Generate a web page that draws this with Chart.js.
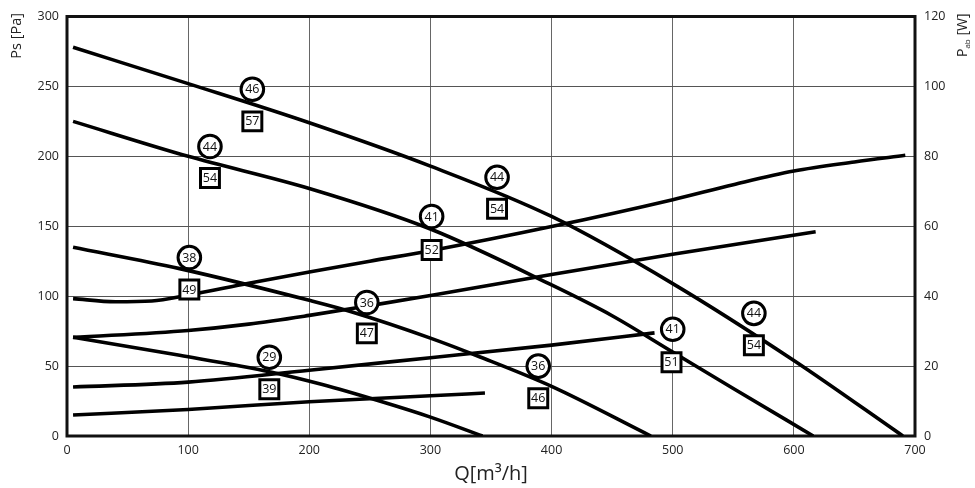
<!DOCTYPE html>
<html><head><meta charset="utf-8">
<script src="https://cdn.jsdelivr.net/npm/chart.js@4"></script>
<style>html,body{margin:0;padding:0;background:#fff}#wrap{width:975px;height:488px}</style>
</head><body><div id="wrap"><canvas id="c"></canvas></div>
<script>
// Pressure curves (left axis, Pa)
const ps1Q = [5, 100, 200, 300, 400, 500, 600, 690];
const ps1V = [278, 252, 224, 193, 157, 109, 54, 0];
const ps2Q = [5, 100, 200, 300, 400, 450, 500, 550, 616];
const ps2V = [225, 200, 177, 148, 108, 86, 60, 34, 0];
const ps3Q = [5, 93, 200, 236, 300, 341, 400, 482];
const ps3V = [135, 119.7, 97, 88.5, 70, 56.5, 35.5, 0];
const ps4Q = [5, 93, 168, 210, 258, 300, 343];
const ps4V = [70.6, 57.7, 45.8, 37, 25, 13.5, 0];
// Power curves (right axis, W)
const pw1Q = [5, 40, 70, 100, 150, 200, 250, 300, 400, 500, 550, 600, 650, 692];
const pw1V = [39.3, 38.4, 38.6, 40.3, 43.7, 46.9, 50, 53, 59.9, 67.6, 71.9, 75.8, 78.4, 80.3];
const pw2Q = [5, 100, 150, 200, 250, 300, 400, 500, 618];
const pw2V = [28.2, 30.2, 32, 34.5, 37.3, 40.2, 46.2, 52, 58.4];
const pw3Q = [5, 100, 200, 300, 400, 485];
const pw3V = [14, 15.4, 18.8, 22.4, 26, 29.5];
const pw4Q = [5, 100, 200, 300, 345];
const pw4V = [6, 7.6, 9.8, 11.5, 12.3];
// Circle markers
const circleQ = [153, 118, 355, 301, 247.5, 389, 101, 167, 500, 567];
const circleV = [248, 207, 185, 157, 95.5, 50, 127.6, 56.3, 76.3, 87.7];
const circleLabels = ['46', '44', '44', '41', '36', '36', '38', '29', '41', '44'];
// Square markers
const squareQ = [153, 118, 355, 301, 247.5, 389, 101, 167, 499, 567];
const squareV = [225, 184.5, 162.5, 133, 73.4, 27, 104.8, 33.5, 52.7, 64.9];
const squareLabels = ['57', '54', '54', '52', '47', '46', '49', '39', '51', '54'];
// Axis ticks
const xMin = 0, xMax = 700, xStep = 100;
const yMin = 0, yMax = 300, yStep = 50;
const y2Min = 0, y2Max = 120, y2Step = 20;

const zip = (q, v) => q.map((x, i) => ({x: x, y: v[i]}));
const FONT = '"Open Sans", "DejaVu Sans", sans-serif';

function lineDs(q, v, axis) {
  return {type: 'line', data: zip(q, v), yAxisID: axis, borderColor: '#000', borderWidth: 3.6,
    pointRadius: 0, fill: false, cubicInterpolationMode: 'monotone', borderCapStyle: 'butt'};
}

const labelPlugin = {
  id: 'labels',
  afterDatasetsDraw(chart) {
    const ctx = chart.ctx;
    ctx.save();
    ctx.fillStyle = '#111';
    ctx.font = '12.5px ' + FONT;
    ctx.textAlign = 'center';
    ctx.textBaseline = 'middle';
    [0, 1].forEach(di => {
      const labels = di === 0 ? circleLabels : squareLabels;
      chart.getDatasetMeta(di).data.forEach((p, i) => ctx.fillText(labels[i], p.x, p.y + 0.5));
    });
    ctx.restore();
  },
  beforeDatasetsDraw(chart) {
    const a = chart.chartArea, ctx = chart.ctx;
    ctx.save();
    ctx.strokeStyle = '#111';
    ctx.lineWidth = 3;
    ctx.strokeRect(a.left, a.top, a.right - a.left, a.bottom - a.top);
    ctx.restore();
  },
  afterDraw(chart) {
    const ctx = chart.ctx;
    ctx.save();
    ctx.fillStyle = '#222';
    // left title
    ctx.save();
    ctx.translate(16.5, 13);
    ctx.rotate(-Math.PI / 2);
    ctx.font = '14.5px ' + FONT;
    ctx.textAlign = 'right';
    ctx.textBaseline = 'middle';
    ctx.fillText('Ps [Pa]', 0, 0);
    ctx.restore();
    // right title with subscript
    ctx.save();
    ctx.translate(963, 57);
    ctx.rotate(-Math.PI / 2);
    ctx.textAlign = 'left';
    ctx.textBaseline = 'middle';
    ctx.font = '14px ' + FONT;
    ctx.fillText('P', 0, 0);
    let w = ctx.measureText('P').width;
    ctx.font = '8px ' + FONT;
    ctx.fillText('ab', w, 5);
    w += ctx.measureText('ab').width;
    ctx.font = '14px ' + FONT;
    ctx.fillText(' [W]', w, 0);
    ctx.restore();
    // x title
    ctx.font = '20px ' + FONT;
    ctx.textAlign = 'center';
    ctx.textBaseline = 'middle';
    ctx.fillText('Q[m³/h]', 491, 474);
    ctx.restore();
  }
};

new Chart(document.getElementById('c'), {
  type: 'scatter',
  data: {
    datasets: [
      {data: zip(circleQ, circleV), yAxisID: 'y', pointStyle: 'circle', pointRadius: 11.3,
        pointBackgroundColor: '#fff', pointBorderColor: '#000', pointBorderWidth: 3, showLine: false},
      {data: zip(squareQ, squareV), yAxisID: 'y', pointStyle: 'rect', pointRadius: 13.4,
        pointBackgroundColor: '#fff', pointBorderColor: '#000', pointBorderWidth: 3, showLine: false},
      lineDs(ps1Q, ps1V, 'y'), lineDs(ps2Q, ps2V, 'y'), lineDs(ps3Q, ps3V, 'y'), lineDs(ps4Q, ps4V, 'y'),
      lineDs(pw1Q, pw1V, 'y2'), lineDs(pw2Q, pw2V, 'y2'), lineDs(pw3Q, pw3V, 'y2'), lineDs(pw4Q, pw4V, 'y2')
    ]
  },
  options: {
    responsive: true, maintainAspectRatio: false, animation: false,
    layout: {padding: {top: 15, left: 0, right: 0, bottom: 0}},
    plugins: {legend: {display: false}, tooltip: {enabled: false}},
    scales: {
      x: {type: 'linear', min: xMin, max: xMax,
        ticks: {stepSize: xStep, color: '#222', font: {size: 12.5, family: FONT}, padding: 7},
        grid: {color: '#666', lineWidth: 1, drawTicks: false},
        border: {display: false},
        afterFit(s) { s.height = 52; }},
      y: {type: 'linear', position: 'left', min: yMin, max: yMax,
        ticks: {stepSize: yStep, color: '#222', font: {size: 12.5, family: FONT}, padding: 8},
        grid: {color: '#555', lineWidth: 1, drawTicks: false},
        border: {display: false},
        afterFit(s) { s.width = 67; }},
      y2: {type: 'linear', position: 'right', min: y2Min, max: y2Max,
        ticks: {stepSize: y2Step, color: '#222', font: {size: 12.5, family: FONT}, padding: 9},
        grid: {display: false, drawTicks: false},
        border: {display: false},
        afterFit(s) { s.width = 60; }}
    }
  },
  plugins: [labelPlugin]
});
</script></body></html>
